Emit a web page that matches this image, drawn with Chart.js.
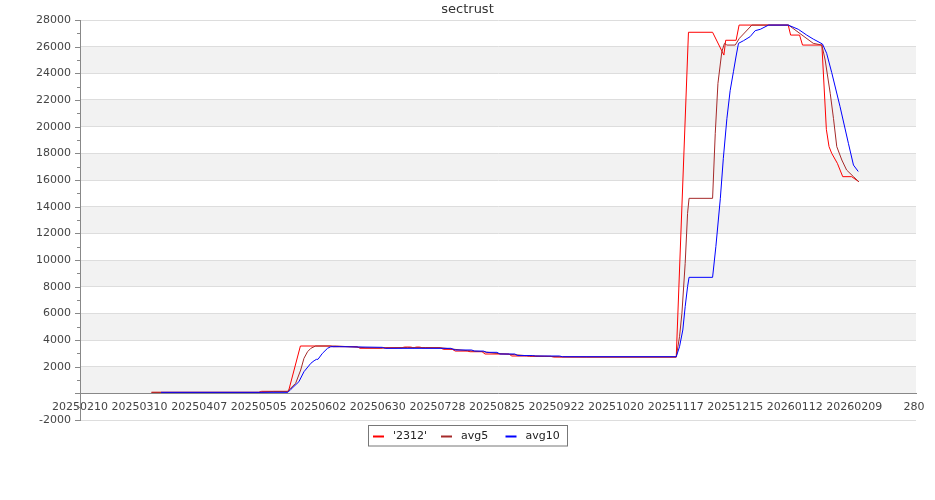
<!DOCTYPE html>
<html><head><meta charset="utf-8">
<script src="https://cdn.jsdelivr.net/npm/chart.js@4/dist/chart.umd.min.js"></script>
<style>html,body{margin:0;padding:0;background:#fff}#wrap{width:935px;height:500px}</style>
</head><body><div id="wrap"><canvas id="c" width="935" height="500"></canvas></div>
<script>
const chartTitle = 'sectrust';
const tickDates = ['20250210','20250310','20250407','20250505','20250602','20250630','20250728','20250825','20250922','20251020','20251117','20251215','20260112','20260209','280'];
const seriesNames = ["'2312'", 'avg5', 'avg10'];

const rawIdx = [24,60,61,70,74,84,85,93,94,101,102,108,109,111,112,113,114,115,121,122,125,126,130,131,135,136,144,145,150,151,158,159,200.2,204.3,212.4,216.2,216.8,220.3,221.3,237.8,238.6,241.6,242.6,249.1,250.6,251.5,252.4,254.3,256.1,259.1,261.5];
const rawVal = [75,75,150,150,3550,3550,3500,3500,3380,3380,3420,3420,3470,3470,3420,3470,3470,3420,3420,3300,3300,3170,3170,3120,3120,2950,2950,2800,2800,2775,2775,2720,2720,27080,27080,25370,26480,26480,27620,27620,26870,26870,26120,26120,19800,18500,18000,17250,16250,16250,15870];

const avg5Idx = [24,60,65,69.6,72.4,74.1,75.2,76.4,77.5,79.1,86,90,96,102,110,116,121,125,130,135,140,146,150,156,162,170,200.2,201.3,202.1,203.2,204,204.5,212.4,213.3,214.2,215.5,216.4,217.2,220,221.4,225.6,237.9,246.2,249.1,250.2,251.9,253,254.1,255.8,257.4,259.7,261.5];
const avg5Val = [75,75,140,140,750,1750,2625,3120,3375,3550,3550,3500,3420,3400,3440,3430,3420,3320,3200,3130,2990,2900,2820,2780,2740,2725,2725,4245,6000,9750,13500,14625,14625,19500,23250,25620,26250,26120,26120,26625,27620,27620,26250,26120,25000,22500,20600,18500,17500,16750,16250,15870];

const avg10Idx = [27.2,69.8,70.8,73.5,75.2,77.5,78.6,79.4,79.9,81.4,83.1,84.2,87,101.5,102.5,124.5,126,131.5,132.5,135.5,136.5,140,141,146,147,152,153,161,162,200.2,201.3,202.4,203.2,204,204.5,212.4,213.5,215,216,217.2,218.3,219.4,220.3,221.1,222.8,225,226.7,228.4,231.2,237.8,241.2,244,246.2,249.3,250.7,252.4,255.2,258,259.7,261.3];
const avg10Val = [75,75,300,870,1620,2250,2445,2550,2550,3000,3375,3495,3500,3450,3375,3375,3250,3250,3170,3170,3075,3075,2950,2950,2830,2830,2800,2800,2745,2745,3495,4750,6500,8000,8700,8700,11000,14600,17600,20600,22700,24120,25300,26250,26450,26750,27200,27300,27620,27620,27300,26870,26570,26200,25500,24060,21500,18750,17120,16640];

const FONT = "'DejaVu Sans', sans-serif";
const pts = (xs, ys) => xs.map((x, k) => ({x: x, y: ys[k]}));

const decorPlugin = {
  id: 'decor',
  beforeDraw(chart) {
    const {ctx, chartArea: a, scales: {y}} = chart;
    ctx.save();
    ctx.fillStyle = '#f2f2f2';
    for (let v = 0; v < 28000; v += 4000) {
      const y1 = y.getPixelForValue(v + 2000), y2 = y.getPixelForValue(v);
      ctx.fillRect(a.left, y1, a.right - a.left, y2 - y1);
    }
    ctx.restore();
  },
  afterDraw(chart) {
    const {ctx, chartArea: a, scales: {y}} = chart;
    ctx.save();
    // title, centred on the whole canvas
    ctx.font = '13px ' + FONT;
    ctx.fillStyle = '#333';
    ctx.textAlign = 'center';
    ctx.textBaseline = 'middle';
    ctx.fillText(chartTitle, chart.width / 2, 10);
    ctx.textAlign = 'left';
    // y-axis major/minor tick marks
    ctx.strokeStyle = '#888';
    ctx.lineWidth = 1;
    ctx.beginPath();
    for (let v = -2000; v <= 28000; v += 1000) {
      const py = Math.round(y.getPixelForValue(v)) + 0.5;
      const len = (v % 2000 === 0) ? 5 : 3;
      ctx.moveTo(a.left - len, py);
      ctx.lineTo(a.left, py);
    }
    ctx.stroke();
    // legend
    const bx = 368.5, by = 425.5, bw = 199, bh = 20.5;
    ctx.strokeStyle = '#777';
    ctx.strokeRect(bx, by, bw, bh);
    const starts = [373, 441, 505.5];
    ctx.font = '11px ' + FONT;
    ctx.textBaseline = 'middle';
    chart.data.datasets.forEach((ds, k) => {
      const x0 = starts[k], yy = 436.5;
      ctx.strokeStyle = ds.borderColor;
      ctx.lineWidth = 2;
      ctx.beginPath();
      ctx.moveTo(x0, yy); ctx.lineTo(x0 + 11, yy);
      ctx.stroke();
      ctx.fillStyle = '#222';
      ctx.fillText(ds.label, x0 + 20, yy);
    });
    ctx.restore();
  }
};

new Chart(document.getElementById('c'), {
  type: 'line',
  data: {
    datasets: [
      {label: seriesNames[0], data: pts(rawIdx, rawVal), borderColor: '#ff0000', order: 3},
      {label: seriesNames[1], data: pts(avg5Idx, avg5Val), borderColor: '#a52a2a', order: 2},
      {label: seriesNames[2], data: pts(avg10Idx, avg10Val), borderColor: '#0000ff', order: 1}
    ]
  },
  options: {
    responsive: false,
    animation: false,
    devicePixelRatio: 1,
    layout: {padding: {left: 0, right: 19, top: 20, bottom: 80}},
    elements: {
      line: {borderWidth: 1, tension: 0, fill: false},
      point: {radius: 0, hoverRadius: 0}
    },
    plugins: {
      legend: {display: false},
      tooltip: {enabled: false},
      title: {display: false}
    },
    scales: {
      x: {
        type: 'linear',
        min: 0,
        max: 280.7,
        position: {y: 0},
        afterBuildTicks: s => { s.ticks = tickDates.map((_, k) => ({value: k * 20})); },
        ticks: {
          callback: v => tickDates[Math.round(v / 20)],
          autoSkip: false, maxRotation: 0, padding: 7,
          color: '#444', font: {family: FONT, size: 11}
        },
        grid: {display: false, drawTicks: false},
        border: {display: true, color: '#888', width: 1}
      },
      y: {
        type: 'linear',
        min: -2000,
        max: 28000,
        afterFit: s => { s.width = 80; },
        ticks: {
          stepSize: 1000,
          autoSkip: false,
          padding: 9,
          color: '#444', font: {family: FONT, size: 11},
          callback: v => (v % 2000 === 0 && v !== 0) ? String(v) : ''
        },
        grid: {
          drawTicks: false,
          color: c => (c.tick && c.tick.value % 2000 === 0) ? '#dddddd' : 'rgba(0,0,0,0)'
        },
        border: {display: true, color: '#888', width: 1}
      }
    }
  },
  plugins: [decorPlugin]
});
</script></body></html>
